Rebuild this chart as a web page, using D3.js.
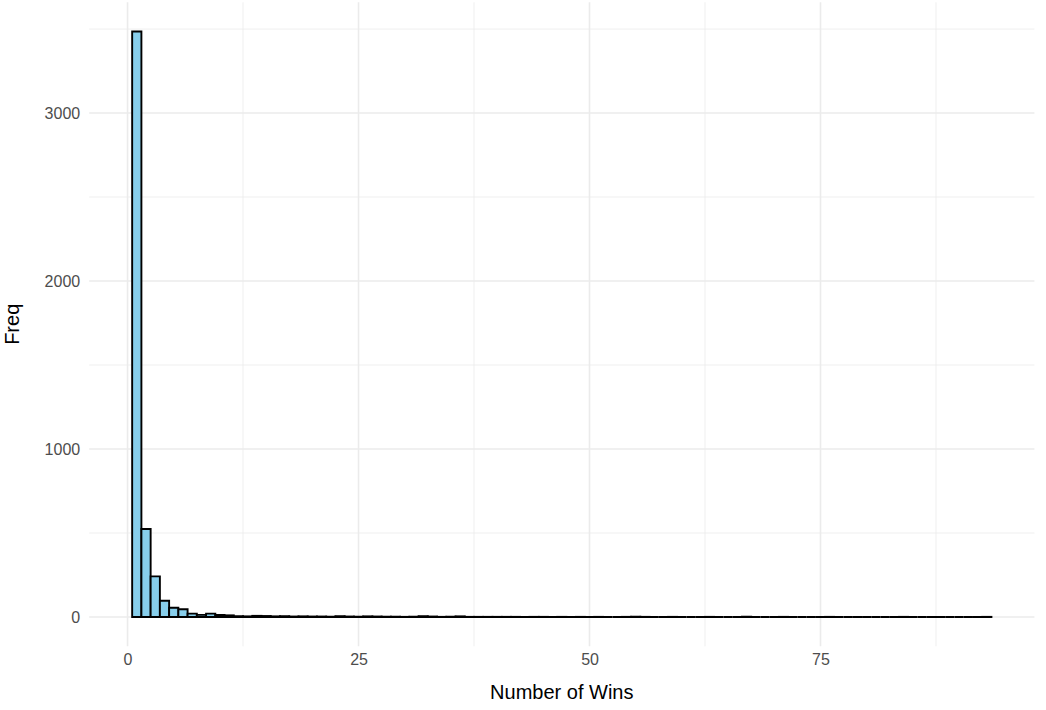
<!DOCTYPE html>
<html><head><meta charset="utf-8">
<script src="https://cdn.jsdelivr.net/npm/d3@7"></script>
<style>body{margin:0;background:#fff}svg{display:block}text{font-family:"Liberation Sans",Arial,Helvetica,sans-serif}</style>
</head><body>
<script>
// wins (bin centers, width 1) and frequency counts
const wins = d3.range(1, 94);
const freq = [3485,524,242,97,55,46,20,13,20,12,10,5,4,7,6,4,5,3,4,3,
  3,2,5,3,2,4,3,2,2,1,2,5,3,1,2,4,1,1,1,1,
  1,1,0,1,1,0,1,0,1,0,1,0,0,1,2,1,0,0,1,0,
  0,0,1,0,0,0,2,0,0,0,1,0,0,0,0,1,0,0,0,0,
  0,0,0,1,0,0,0,0,0,0,0,0,1];
const xTicks = [0,25,50,75];
const yTicks = [0,1000,2000,3000];
const xLabel = "Number of Wins", yLabel = "Freq";

const W=1046,H=710;
const L=89.2,R=1034.4,T=2.3,B=646.3;
const svg=d3.select("body").append("svg").attr("width",W).attr("height",H);
const xmin=0.5,xmax=93.5,ex=(xmax-xmin)*0.05;
const x=d3.scaleLinear().domain([xmin-ex,xmax+ex]).range([L,R]);
const ymax=d3.max(freq),ey=ymax*0.05;
const y=d3.scaleLinear().domain([-ey,ymax+ey]).range([B,T]);

const g=svg.append("g");
// minor grid
[12.5,37.5,62.5,87.5].forEach(v=>g.append("line").attr("x1",x(v)).attr("x2",x(v)).attr("y1",T).attr("y2",B).attr("stroke","#ebebeb").attr("stroke-width",0.8));
[500,1500,2500,3500].forEach(v=>g.append("line").attr("y1",y(v)).attr("y2",y(v)).attr("x1",L).attr("x2",R).attr("stroke","#ebebeb").attr("stroke-width",0.8));
// major grid
xTicks.forEach(v=>g.append("line").attr("x1",x(v)).attr("x2",x(v)).attr("y1",T).attr("y2",B).attr("stroke","#ebebeb").attr("stroke-width",1.6));
yTicks.forEach(v=>g.append("line").attr("y1",y(v)).attr("y2",y(v)).attr("x1",L).attr("x2",R).attr("stroke","#ebebeb").attr("stroke-width",1.6));

// bars (paths so that zero-height bins still draw their outline)
g.selectAll("path.bar").data(wins.map((w,i)=>({w,f:freq[i]}))).join("path")
  .attr("class","bar")
  .attr("d",d=>{const x0=x(d.w-0.5),x1=x(d.w+0.5),y0=y(0),y1=y(d.f);return `M${x0},${y0}V${y1}H${x1}V${y0}Z`;})
  .attr("fill","#87ceeb").attr("stroke","#000").attr("stroke-width",1.9).attr("stroke-linejoin","miter");

// axes
const xa=svg.append("g").attr("transform",`translate(0,${B})`).call(d3.axisBottom(x).tickValues(xTicks).tickSize(0).tickPadding(7));
const ya=svg.append("g").attr("transform",`translate(${L},0)`).call(d3.axisLeft(y).tickValues(yTicks).tickSize(0).tickPadding(9).tickFormat(d3.format("d")));
[xa,ya].forEach(a=>{a.select(".domain").remove();a.selectAll("text").attr("font-size",16).attr("fill","#4d4d4d").attr("font-family",'"Liberation Sans",Arial,sans-serif');});

svg.append("text").attr("x",(L+R)/2).attr("y",699).attr("text-anchor","middle").attr("font-size",20).attr("fill","#000").text(xLabel);
svg.append("text").attr("transform",`translate(19,${(T+B)/2}) rotate(-90)`).attr("text-anchor","middle").attr("font-size",20).attr("fill","#000").text(yLabel);
</script>
</body></html>
